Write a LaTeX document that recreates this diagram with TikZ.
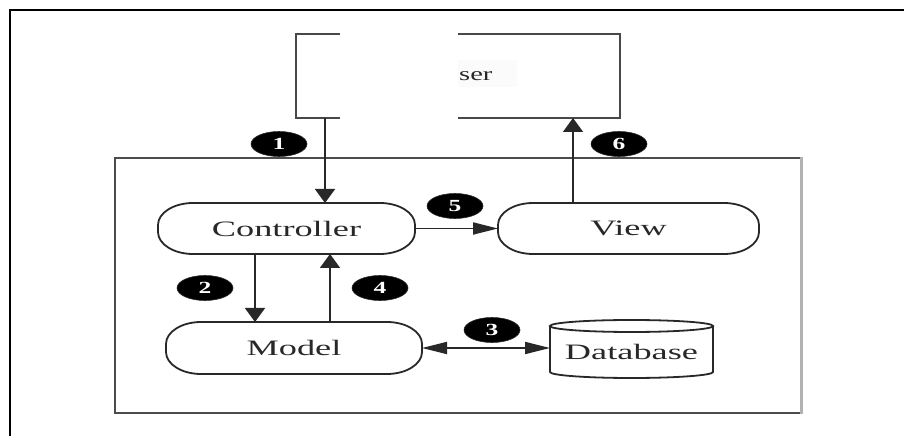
\documentclass[tikz,border=0pt]{standalone}
\usepackage{fontspec}
\setmainfont{Liberation Serif}
\usetikzlibrary{arrows.meta,calc,shapes.geometric}
\definecolor{ink}{HTML}{282828}
\newcommand{\wide}[2][1.65]{\scalebox{#1}[1]{#2}}
\tikzset{
  lineink/.style={draw=ink, line width=1.8pt},
  slot/.style={draw=none, inner sep=0pt, outer sep=0pt},
  vhead/.style={-{Triangle[length=14pt,width=20pt]}},
  hhead/.style={-{Triangle[length=25pt,width=12pt]}},
  bothhead/.style={{Triangle[length=25pt,width=12pt]}-{Triangle[length=25pt,width=12pt]}},
  badge/.style={ellipse, fill=black, draw=ink, line width=0.6pt, minimum width=56pt,
    minimum height=25pt, inner sep=0pt, text=white,
    font=\fontsize{17}{17}\selectfont\bfseries},
  caption/.style={text=ink, font=\fontsize{22}{26}\selectfont, inner sep=0pt},
}
% oval-cornered outline around a named slot node
\newcommand{\ovaloutline}[1]{%
  \draw[lineink] ($(#1.north west)+(35,0)$) -- ($(#1.north east)+(-35,0)$)
    arc[start angle=90,end angle=0,x radius=35pt,y radius=22pt]
    -- ($(#1.south east)+(0,22)$)
    arc[start angle=0,end angle=-90,x radius=35pt,y radius=22pt]
    -- ($(#1.south west)+(35,0)$)
    arc[start angle=270,end angle=180,x radius=35pt,y radius=22pt]
    -- ($(#1.north west)+(0,-22)$)
    arc[start angle=180,end angle=90,x radius=35pt,y radius=22pt] -- cycle;}

\begin{document}
\begin{tikzpicture}[x=1pt,y=1pt]
\useasboundingbox (0,0) rectangle (904,436);

% page frame (top and left edges)
\draw[black, line width=2pt] (9.5,0) -- (9.5,425.5) -- (904,425.5);

% user box, partly blanked out
\node[slot, minimum width=324pt, minimum height=84pt] (user) at (458,360) {};
\draw[ink!85, line width=1.6pt] ($(user.north west)+(44,0)$) -- (user.north west)
  -- (user.south west) -- ($(user.south west)+(44,0)$);
\draw[ink!85, line width=1.6pt] ($(user.north west)+(162,0)$) -- (user.north east)
  -- (user.south east) -- ($(user.south west)+(162,0)$);
\fill[gray!3] (458,349) rectangle (517,376);
\node[caption, anchor=west] (usertext) at (459,360)
  {\wide[1.5]{\fontsize{19}{21}\selectfont ser}};

% application frame
\node[draw=gray!60!black, line width=1.4pt, minimum width=686pt, minimum height=255pt,
  inner sep=0pt] (app) at (458,150.5) {};
\draw[gray!60, line width=3pt] (app.north east) -- (app.south east);

% components
\node[slot, minimum width=257pt, minimum height=51pt] (ctrl) at (286.5,207.5) {};
\node[slot, minimum width=261pt, minimum height=51pt] (view) at (628.5,207.5) {};
\node[slot, minimum width=256pt, minimum height=52pt] (model) at (294,88) {};
\ovaloutline{ctrl}
\ovaloutline{view}
\ovaloutline{model}
\node[caption] (ctrltext) at (ctrl) {\wide{Controller}};
\node[caption] (viewtext) at (view) {\wide{View}};
\node[caption] (modeltext) at (model) {\wide{Model}};

% database cylinder
\node[slot, minimum width=163pt, minimum height=58pt] (db) at (631.5,87) {};
\draw[lineink] ($(db.north)+(0,-6)$) ellipse [x radius=81.5pt, y radius=6pt];
\draw[lineink] ($(db.north west)+(0,-6)$) -- ($(db.south west)+(0,6)$)
  arc[start angle=180,end angle=360,x radius=81.5pt,y radius=6pt]
  -- ($(db.north east)+(0,-6)$);
\node[caption] (dbtext) at ($(db.center)+(0,-3)$) {\wide{Database}};

% connector columns
\coordinate (c1) at (325,0);
\coordinate (c2) at (255,0);
\coordinate (c4) at (330,0);
\coordinate (c6) at (573,0);

% connectors
\draw[lineink, vhead] (c1 |- user.south) -- (c1 |- ctrl.north);
\draw[lineink, vhead] (c2 |- ctrl.south) -- (c2 |- model.north);
\draw[lineink, vhead] (c4 |- model.north) -- (c4 |- ctrl.south);
\draw[lineink, hhead] (ctrl.east) -- (view.west);
\draw[lineink, vhead] (c6 |- view.north) -- (c6 |- user.south);
\draw[lineink, bothhead] (model.east) -- (db.west |- model.east);

% step badges
\node[badge] (b1) at (279,292) {\wide[1.5]{1}};
\node[badge] (b2) at (205,148) {\wide[1.5]{2}};
\node[badge] (b3) at (492,106) {\wide[1.5]{3}};
\node[badge] (b4) at (380,148) {\wide[1.5]{4}};
\node[badge] (b5) at (455,230) {\wide[1.5]{5}};
\node[badge] (b6) at (619,292) {\wide[1.5]{6}};
\end{tikzpicture}
\end{document}
